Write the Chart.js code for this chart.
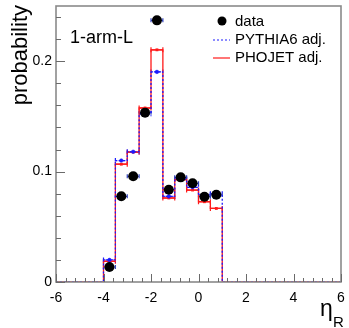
<!DOCTYPE html>
<html><head><meta charset="utf-8">
<script src="https://cdn.jsdelivr.net/npm/chart.js@4.4.1/dist/chart.umd.min.js"></script>
<style>html,body{margin:0;padding:0;background:#fff}#wrap{width:349px;height:328px;position:relative}</style>
</head><body><div id="wrap"><canvas id="c" width="349" height="328"></canvas></div>
<script>
// ---- data ----
const binEdges = [-4, -3.5, -3, -2.5, -2, -1.5, -1, -0.5, 0, 0.5, 1];
const binCenters = [-3.75, -3.25, -2.75, -2.25, -1.75, -1.25, -0.75, -0.25, 0.25, 0.75];
const dataValues = [0.0136, 0.0776, 0.0958, 0.1534, 0.237, 0.0836, 0.0948, 0.0894, 0.0773, 0.079];
const pythiaValues = [0.020, 0.110, 0.118, 0.1524, 0.1903, 0.0776, 0.0933, 0.0858, 0.079, 0.080];
const phojetValues = [0.0188, 0.1067, 0.1176, 0.1576, 0.2103, 0.0761, 0.0927, 0.0833, 0.0727, 0.0666];
const xTickValues = [-6, -4, -2, 0, 2, 4, 6];
const yTickValues = [0, 0.1, 0.2];
const xRange = [-6, 6];
const yRange = [0, 0.25];
const seriesLabels = ['data', 'PYTHIA6 adj.', 'PHOJET adj.'];
const panelLabel = '1-arm-L';
const yTitle = 'probability';

const FONT = '"Liberation Sans", Arial, Helvetica, sans-serif';
const BLUE = '#1a1aff', RED = '#ff1a1a';

function stepPoints(vals) {
  const pts = [{x: xRange[0], y: 0}];
  vals.forEach((v, i) => pts.push({x: binEdges[i], y: v}));
  pts.push({x: binEdges[binEdges.length - 1], y: 0});
  pts.push({x: xRange[1], y: 0});
  return pts;
}
const centerPts = vals => vals.map((v, i) => ({x: binCenters[i], y: v}));
const halfW = (binEdges[1] - binEdges[0]) / 2;

const rootStyle = {
  id: 'rootStyle',
  beforeDatasetsDraw(chart) {
    const {ctx, scales: {x, y}} = chart;
    const bars = (vals, color, cap, dash) => {
      ctx.save();
      ctx.strokeStyle = color; ctx.lineWidth = 1.2; ctx.setLineDash(dash);
      vals.forEach((v, i) => {
        const x0 = x.getPixelForValue(binCenters[i] - halfW);
        const x1 = x.getPixelForValue(binCenters[i] + halfW);
        const py = y.getPixelForValue(v);
        ctx.beginPath();
        ctx.moveTo(x0, py); ctx.lineTo(x1, py);
        ctx.moveTo(x0, py - cap); ctx.lineTo(x0, py + cap);
        ctx.moveTo(x1, py - cap); ctx.lineTo(x1, py + cap);
        ctx.stroke();
      });
      ctx.restore();
    };
    bars(phojetValues, RED, 2.5, []);
    bars(pythiaValues, BLUE, 2.5, [2, 2]);
    bars(dataValues, '#3344bb', 2, []);
  },
  afterDraw(chart) {
    const {ctx, chartArea: a, scales: {x, y}} = chart;
    ctx.save();
    // frame
    ctx.strokeStyle = '#8a8a8a'; ctx.lineWidth = 1.6; ctx.setLineDash([]);
    ctx.strokeRect(a.left, a.top, a.right - a.left, a.bottom - a.top);
    // ticks
    ctx.strokeStyle = '#6a6a6a'; ctx.lineWidth = 1;
    ctx.beginPath();
    for (let k = 0; k <= 30; k++) {
      const v = xRange[0] + k * 0.4;
      const px = Math.round(x.getPixelForValue(v)) + 0.5;
      const len = (k % 5 === 0) ? 8 : 4;
      ctx.moveTo(px, a.bottom); ctx.lineTo(px, a.bottom - len);
    }
    for (let k = 0; k <= 12; k++) {
      const v = k * 0.02;
      const py = Math.round(y.getPixelForValue(v)) + 0.5;
      const len = (k % 5 === 0) ? 9 : 5;
      ctx.moveTo(a.left, py); ctx.lineTo(a.left + len, py);
    }
    ctx.stroke();
    // titles
    ctx.fillStyle = '#000';
    ctx.font = '22px ' + FONT;
    ctx.save();
    ctx.translate(27, 5);
    ctx.rotate(-Math.PI / 2);
    ctx.textAlign = 'right'; ctx.textBaseline = 'alphabetic';
    ctx.fillText(yTitle, 0, 0);
    ctx.restore();
    ctx.textAlign = 'left'; ctx.textBaseline = 'alphabetic';
    ctx.font = '23px ' + FONT;
    ctx.fillText('\u03B7', 320, 316);
    ctx.font = '15px ' + FONT;
    ctx.fillText('R', 333, 327);
    // panel label
    ctx.font = '18px ' + FONT;
    ctx.fillText(panelLabel, 70, 43);
    // legend
    ctx.font = '15px ' + FONT;
    ctx.textBaseline = 'middle';
    const lx = 235, rows = [22, 40, 58];
    ctx.fillText(seriesLabels[0], lx, rows[0]);
    ctx.fillText(seriesLabels[1], lx, rows[1]);
    ctx.fillText(seriesLabels[2], lx, rows[2]);
    ctx.beginPath(); ctx.arc(222, rows[0] - 1, 4.5, 0, Math.PI * 2); ctx.fill();
    ctx.lineWidth = 1.2;
    ctx.strokeStyle = BLUE; ctx.setLineDash([2, 2]);
    ctx.beginPath(); ctx.moveTo(213, rows[1]); ctx.lineTo(230, rows[1]); ctx.stroke();
    ctx.strokeStyle = RED; ctx.setLineDash([]);
    ctx.beginPath(); ctx.moveTo(213, rows[2]); ctx.lineTo(230, rows[2]); ctx.stroke();
    ctx.restore();
  }
};

new Chart(document.getElementById('c'), {
  type: 'scatter',
  data: {
    datasets: [
      {label: seriesLabels[0], data: centerPts(dataValues), showLine: false,
       pointRadius: 5, pointBackgroundColor: '#000', pointBorderColor: '#000', pointBorderWidth: 0, order: 0},
      {label: seriesLabels[1] + ' m', data: centerPts(pythiaValues), showLine: false,
       pointStyle: 'circle', pointRadius: 1.8, pointBackgroundColor: BLUE, pointBorderColor: BLUE, pointBorderWidth: 0.5, order: 1},
      {label: seriesLabels[2] + ' m', data: centerPts(phojetValues), showLine: false,
       pointStyle: 'rect', pointRadius: 2, pointBackgroundColor: RED, pointBorderColor: RED, pointBorderWidth: 0, order: 2},
      {type: 'line', label: seriesLabels[1], data: stepPoints(pythiaValues), stepped: true,
       borderColor: BLUE, borderWidth: 1.3, borderDash: [2, 2], pointRadius: 0, fill: false, order: 3},
      {type: 'line', label: seriesLabels[2], data: stepPoints(phojetValues), stepped: true,
       borderColor: RED, borderWidth: 1.3, pointRadius: 0, fill: false, order: 4}
    ]
  },
  options: {
    responsive: false, animation: false, devicePixelRatio: 1,
    layout: {padding: {top: 6, right: 8, left: 0, bottom: 0}},
    plugins: {legend: {display: false}, tooltip: {enabled: false}},
    scales: {
      x: {
        type: 'linear', min: xRange[0], max: xRange[1],
        grid: {display: false, drawTicks: false}, border: {display: false},
        ticks: {font: {family: FONT, size: 14}, color: '#000', padding: 8, maxRotation: 0, autoSkip: false,
                callback: v => String(v)},
        afterBuildTicks: s => { s.ticks = xTickValues.map(v => ({value: v})); },
        afterFit: s => { s.height = 46; s.paddingLeft = 0; s.paddingRight = 0; }
      },
      y: {
        type: 'linear', min: yRange[0], max: yRange[1],
        grid: {display: false, drawTicks: false}, border: {display: false},
        ticks: {font: {family: FONT, size: 14}, color: '#000', padding: 4,
                callback: v => String(v)},
        afterBuildTicks: s => { s.ticks = yTickValues.map(v => ({value: v})); },
        afterFit: s => { s.width = 56; s.paddingTop = 0; s.paddingBottom = 0; }
      }
    }
  },
  plugins: [rootStyle]
});
</script>
</body></html>
